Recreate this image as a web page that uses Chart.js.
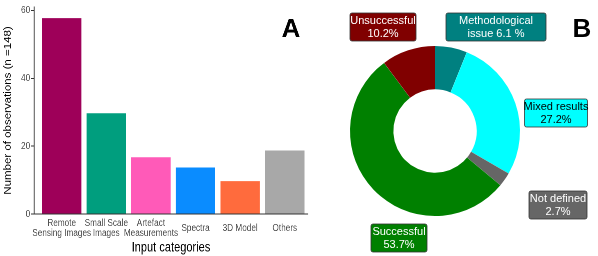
<!DOCTYPE html>
<html>
<head>
<meta charset="utf-8">
<script src="https://cdn.jsdelivr.net/npm/chart.js@4"></script>
<style>
  html, body { margin: 0; padding: 0; background: #fff; }
  #wrap { position: relative; width: 598px; height: 256px; overflow: hidden; }
  #barBox { position: absolute; left: 0; top: 0; height: 256px; transform-origin: 0 0; }
  #pieBox { position: absolute; left: 300px; top: 0; width: 298px; height: 256px; }
</style>
</head>
<body>
<div id="wrap">
  <div id="barBox"><canvas id="bars"></canvas></div>
  <div id="pieBox"><canvas id="donut"></canvas></div>
</div>
<script>
// panel A data
const categories = [
  ['Remote', 'Sensing Images'],
  ['Small Scale', 'Images'],
  ['Artefact', 'Measurements'],
  'Spectra',
  '3D Model',
  'Others'
];
const observations = [58, 30, 17, 14, 10, 19];
const barColors = ['#9e0059', '#009e7e', '#ff5ab8', '#0a8cff', '#ff6b3d', '#a8a8a8'];

// panel B data
const outcomes = ['Methodological issue', 'Mixed results', 'Not defined', 'Successful', 'Unsuccessful'];
const outcomeShare = [6.1, 27.2, 2.7, 53.7, 10.2];
const outcomeColors = ['#008080', '#00ffff', '#666666', '#008000', '#800000'];
const outcomeText = [
  ['Methodological', 'issue 6.1 %'],
  ['Mixed results', '27.2%'],
  ['Not defined', '2.7%'],
  ['Successful', '53.7%'],
  ['Unsuccessful', '10.2%']
];
// label box placement relative to donut centre: dx, dy, box width, text colour
const boxLayout = [
  { dx: 61, dy: -104, w: 100, fg: '#ffffff' },
  { dx: 121, dy: -18, w: 63, fg: '#000000' },
  { dx: 123, dy: 74, w: 58, fg: '#ffffff' },
  { dx: -36, dy: 107, w: 56, fg: '#ffffff' },
  { dx: -52, dy: -104, w: 66, fg: '#ffffff' }
];

const FONT = "'Liberation Sans', Arial, sans-serif";
Chart.defaults.font.family = FONT;
Chart.defaults.animation = false;

// panel A is drawn wide and squeezed horizontally (narrow lettering of the original)
const SQ = 0.82;
const barBox = document.getElementById('barBox');
barBox.style.width = (310 / SQ) + 'px';
barBox.style.transform = 'scaleX(' + SQ + ')';

const panelLetter = (txt, x, sx) => ({
  id: 'letter' + txt,
  afterDraw(chart) {
    const ctx = chart.ctx;
    ctx.save();
    ctx.scale(1 / sx, 1);
    ctx.font = 'bold 26px ' + FONT;
    ctx.fillStyle = '#000';
    ctx.textAlign = 'center';
    ctx.textBaseline = 'alphabetic';
    ctx.fillText(txt, x, 37);
    ctx.restore();
  }
});

new Chart(document.getElementById('bars'), {
  type: 'bar',
  data: {
    datasets: [{
      data: observations.map((v, i) => ({ x: i + 1, y: v })),
      backgroundColor: barColors,
      borderColor: 'rgba(255,255,255,0.45)',
      borderWidth: 1,
      barPercentage: 0.92,
      categoryPercentage: 1
    }]
  },
  options: {
    responsive: true,
    maintainAspectRatio: false,
    devicePixelRatio: 2,
    layout: { padding: { left: 0, top: 5, right: 2 / SQ, bottom: 0 } },
    plugins: { legend: { display: false }, tooltip: { enabled: false } },
    scales: {
      x: {
        type: 'linear',
        offset: false,
        min: 0.38,
        max: 6.52,
        afterBuildTicks: s => { s.ticks = categories.map((_, i) => ({ value: i + 1 })); },
        afterFit: s => { s.height = 42; },
        grid: { offset: false, drawOnChartArea: false, drawTicks: false },
        border: { color: '#333', width: 1 },
        ticks: {
          callback: v => categories[v - 1],
          color: '#4d4d4d',
          font: { size: 10, lineHeight: 1.0 },
          padding: 9,
          crossAlign: 'center',
          maxRotation: 0,
          autoSkip: false
        },
        title: {
          display: true,
          text: 'Input categories',
          color: '#000',
          font: { size: 13.5 },
          padding: { top: 0, bottom: 0 }
        }
      },
      y: {
        min: 0,
        max: 61,
        afterBuildTicks: s => { s.ticks = [0, 20, 40, 60].map(v => ({ value: v })); },
        afterFit: s => { s.width = 34 / SQ; },
        grid: { drawOnChartArea: false, tickLength: 3 / SQ, color: '#333' },
        border: { color: '#333', width: 1 / SQ },
        ticks: { color: '#4d4d4d', font: { size: 10 }, padding: 1 },
        title: {
          display: true,
          text: 'Number of observations (n =148)',
          color: '#000',
          font: { size: 11.5 },
          padding: { top: 3, bottom: 0 }
        }
      }
    }
  },
  plugins: [panelLetter('A', 291, SQ)]
});

const boxLabels = {
  id: 'boxLabels',
  afterDraw(chart) {
    const ctx = chart.ctx;
    const a = chart.chartArea;
    const cx = (a.left + a.right) / 2, cy = (a.top + a.bottom) / 2;
    ctx.save();
    ctx.font = '11px ' + FONT;
    ctx.textAlign = 'center';
    ctx.textBaseline = 'middle';
    outcomeText.forEach((lines, i) => {
      const b = boxLayout[i];
      const x = cx + b.dx, y = cy + b.dy, w = b.w, h = 28;
      ctx.beginPath();
      ctx.roundRect(x - w / 2, y - h / 2, w, h, 2);
      ctx.fillStyle = outcomeColors[i];
      ctx.fill();
      ctx.lineWidth = 0.8;
      ctx.strokeStyle = '#333';
      ctx.stroke();
      ctx.fillStyle = b.fg;
      ctx.fillText(lines[0], x, y - 6.5);
      ctx.fillText(lines[1], x, y + 6.5);
    });
    ctx.restore();
  }
};

new Chart(document.getElementById('donut'), {
  type: 'doughnut',
  data: {
    labels: outcomes,
    datasets: [{
      data: outcomeShare,
      backgroundColor: outcomeColors,
      borderWidth: 0
    }]
  },
  options: {
    responsive: true,
    maintainAspectRatio: false,
    cutout: '49%',
    layout: { padding: { left: 50, right: 78, top: 46, bottom: 40 } },
    plugins: { legend: { display: false }, tooltip: { enabled: false } }
  },
  plugins: [boxLabels, panelLetter('B', 282, 1)]
});
</script>
</body>
</html>
